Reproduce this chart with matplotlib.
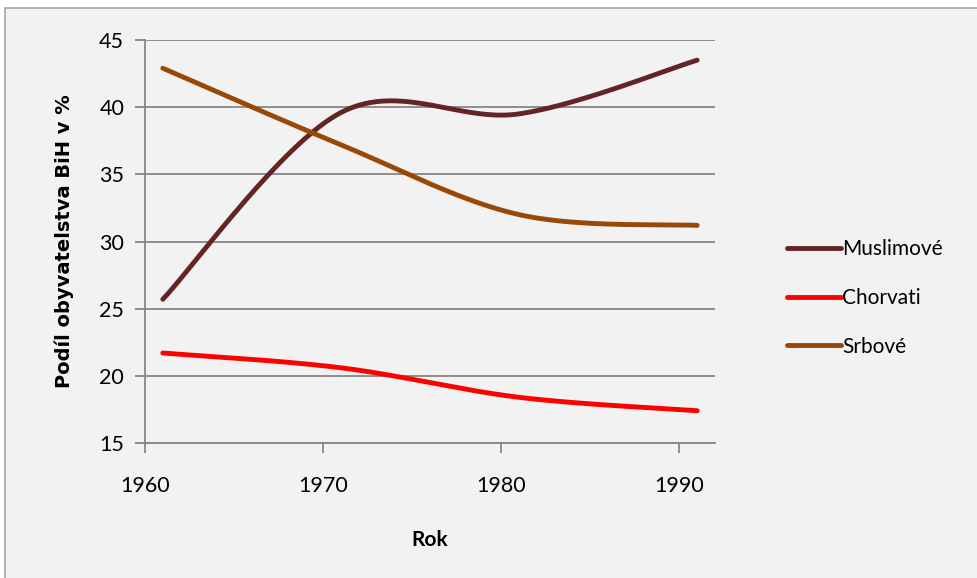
import numpy as np
import matplotlib
matplotlib.use('Agg')
import matplotlib.pyplot as plt
from matplotlib.patches import Rectangle

plt.rcParams['font.family'] = ['Lato', 'DejaVu Sans']

years = [1961, 1971, 1981, 1991]
muslimove = [25.7, 39.6, 39.5, 43.5]
chorvati = [21.7, 20.6, 18.4, 17.4]
srbove = [42.9, 37.2, 32.0, 31.2]

series = [('Muslimové', muslimove, '#632523'),
          ('Chorvati', chorvati, '#ff0000'),
          ('Srbové', srbove, '#984807')]


def smooth(xs, ys, n=60):
    # excel-like smoothed line: bezier segments, catmull-rom style control points
    p = np.column_stack([xs, ys]).astype(float)
    out = []
    t = np.linspace(0, 1, n)[:, None]
    for i in range(len(p) - 1):
        p0 = p[i]
        p3 = p[i + 1]
        prev = p[i - 1] if i > 0 else p[i]
        nxt = p[i + 2] if i + 2 < len(p) else p[i + 1]
        c1 = p0 + (p3 - prev) / 6
        c2 = p3 - (nxt - p0) / 6
        seg = ((1 - t) ** 3) * p0 + 3 * ((1 - t) ** 2) * t * c1 + 3 * (1 - t) * t ** 2 * c2 + t ** 3 * p3
        out.append(seg)
    out = np.vstack(out)
    return out[:, 0], out[:, 1]


fig = plt.figure(figsize=(9.77, 5.78), dpi=100)
fig.patch.set_facecolor('white')
fig.patches.append(Rectangle((5 / 977, -0.01), 1.0, 1 - 8 / 578 + 0.01, transform=fig.transFigure,
                             facecolor='#f2f2f2', edgecolor='#a6a6a6', linewidth=1.2, zorder=-10))

ax = fig.add_axes([145 / 977, 1 - 443 / 578, (715 - 145) / 977, (443 - 40) / 578])
ax.set_facecolor('#f2f2f2')

for name, vals, col in series:
    sx, sy = smooth(years, vals)
    ax.plot(sx, sy, color=col, lw=3.5, solid_capstyle='round', label=name)

ax.set_xlim(1960, 1992)
ax.set_ylim(15, 45)
ax.set_xticks([1960, 1970, 1980, 1990])
ax.set_yticks(range(15, 50, 5))
ax.grid(axis='y', color='#868686', lw=1.3)
ax.set_axisbelow(True)
for s in ['top', 'right']:
    ax.spines[s].set_visible(False)
ax.spines['left'].set_color('#868686')
ax.spines['bottom'].set_color('#868686')
ax.spines['left'].set_linewidth(1.3)
ax.spines['bottom'].set_linewidth(1.3)
ax.tick_params(axis='x', colors='#868686', length=7, width=1.3, labelcolor='black', labelsize=15.5, pad=17)
ax.tick_params(axis='y', colors='#868686', length=7, width=1.3, labelcolor='black', labelsize=15.5, pad=8)

ax.set_xlabel('Rok', fontsize=15, fontweight='bold', labelpad=24)
ax.set_ylabel('Podíl obyvatelstva BiH v %', fontsize=14, fontweight='bold', labelpad=18,
              family=['DejaVu Sans'])

fig.legend(loc='center left', bbox_to_anchor=(768 / 977, 1 - 298 / 578), frameon=False,
           fontsize=15, handlelength=2.6, handletextpad=0.05, labelspacing=1.38)

fig.savefig('out.png', dpi=100, facecolor=fig.get_facecolor())
